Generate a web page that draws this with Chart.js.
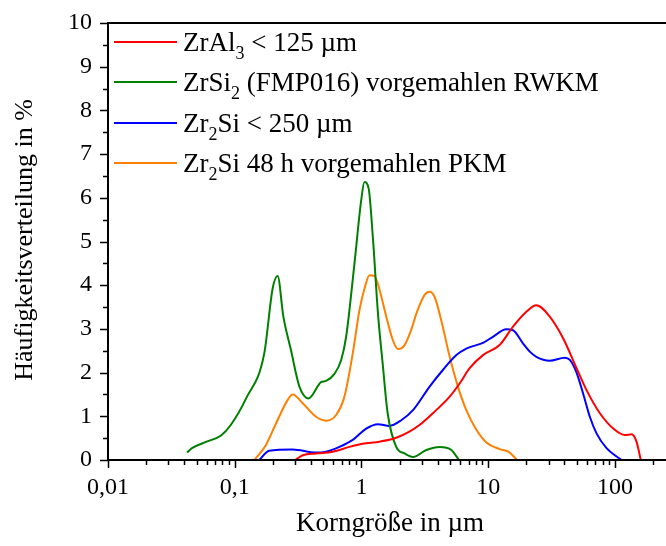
<!DOCTYPE html>
<html>
<head>
<meta charset="utf-8">
<script src="https://cdn.jsdelivr.net/npm/chart.js@4.4.1/dist/chart.umd.min.js"></script>
<style>
  html, body { margin: 0; padding: 0; background: #fff; }
  #wrap { width: 666px; height: 546px; }
</style>
</head>
<body>
<div id="wrap"><canvas id="psdChart"></canvas></div>
<script>
// --- DATA ---
// particle size in µm, frequency in %
const zrAl3Size = [0.30, 0.344, 0.438, 0.593, 0.804, 1.02, 1.39, 1.88, 2.39, 2.87, 3.66, 4.97, 5.95, 7.14, 9.1, 12.3, 15.7, 20.0, 24.0, 30.6, 39.1, 49.8, 59.7, 76.1, 97, 120, 135.5, 148, 160];
const zrAl3Freq = [0, 0.11, 0.15, 0.19, 0.30, 0.37, 0.42, 0.51, 0.65, 0.80, 1.07, 1.45, 1.75, 2.10, 2.40, 2.63, 3.05, 3.39, 3.54, 3.28, 2.78, 2.10, 1.60, 1.07, 0.72, 0.57, 0.59, 0.42, 0];

const zrSi2Size = [0.042, 0.046, 0.060, 0.078, 0.093, 0.123, 0.171, 0.199, 0.218, 0.242, 0.278, 0.324, 0.383, 0.48, 0.526, 0.612, 0.692, 0.757, 0.881, 0.995, 1.056, 1.14, 1.23, 1.35, 1.47, 1.61, 1.88, 2.19, 2.55, 3.25, 4.14, 5.12, 5.88];
const zrSi2Freq = [0.17, 0.27, 0.42, 0.56, 0.80, 1.41, 2.44, 3.92, 4.21, 3.28, 2.51, 1.68, 1.41, 1.78, 1.81, 1.97, 2.29, 2.82, 4.50, 5.94, 6.36, 6.21, 5.10, 3.35, 2.21, 1.07, 0.30, 0.15, 0.07, 0.23, 0.30, 0.23, 0];

const zr2SiSize = [0.156, 0.187, 0.286, 0.438, 0.526, 0.67, 0.854, 1.09, 1.35, 1.66, 2.06, 2.55, 3.45, 4.39, 5.61, 6.72, 9.1, 10.9, 13.9, 15.7, 18.8, 21.3, 24.0, 30.6, 40.2, 44.1, 49.8, 56.1, 63.4, 71.6, 85.9, 103, 113];
const zr2SiFreq = [0, 0.21, 0.24, 0.17, 0.19, 0.30, 0.46, 0.72, 0.82, 0.78, 0.91, 1.14, 1.68, 2.06, 2.40, 2.55, 2.68, 2.82, 2.99, 2.97, 2.67, 2.48, 2.36, 2.27, 2.34, 2.29, 2.0, 1.52, 0.99, 0.61, 0.27, 0.08, 0];

const zr2Si48Size = [0.143, 0.176, 0.212, 0.261, 0.286, 0.344, 0.438, 0.526, 0.631, 0.734, 0.854, 0.964, 1.056, 1.157, 1.27, 1.39, 1.57, 1.77, 1.94, 2.19, 2.45, 2.75, 3.15, 3.45, 3.78, 4.26, 4.97, 5.77, 6.72, 8.07, 9.68, 12.3, 14.4, 16.9];
const zr2Si48Freq = [0, 0.34, 0.84, 1.37, 1.50, 1.30, 0.99, 0.90, 1.03, 1.45, 2.44, 3.43, 3.92, 4.23, 4.21, 3.89, 3.28, 2.74, 2.54, 2.63, 2.95, 3.40, 3.78, 3.85, 3.73, 3.20, 2.36, 1.68, 1.14, 0.69, 0.40, 0.25, 0.19, 0];

// legend labels, split into [text, isSubscript] pieces
const legendLabels = [
    [['ZrAl', false], ['3', true], [' < 125 µm', false]],
    [['ZrSi', false], ['2', true], [' (FMP016) vorgemahlen RWKM', false]],
    [['Zr', false], ['2', true], ['Si < 250 µm', false]],
    [['Zr', false], ['2', true], ['Si 48 h vorgemahlen PKM', false]]
];
const seriesColors = ['#ff0000', '#008000', '#0000ff', '#ff8000'];

// axis ticks
const xTickValues = [0.01, 0.1, 1, 10, 100];
const xTickLabels = ['0,01', '0,1', '1', '10', '100'];
const yTickValues = [0, 1, 2, 3, 4, 5, 6, 7, 8, 9, 10];

const xTitle = 'Korngröße in µm';
const yTitle = 'Häufigkeitsverteilung in %';

const SERIF = "'Liberation Serif', 'Times New Roman', serif";

function toPoints(xs, ys) {
    return xs.map((x, i) => ({ x: x, y: ys[i] }));
}

// --- DRAWING OF AXES, TICKS, TITLES, LEGEND ---
const framePlugin = {
    id: 'frame',
    afterDraw(chart) {
        const ctx = chart.ctx;
        const area = chart.chartArea;
        const xs = chart.scales.x;
        const ys = chart.scales.y;
        ctx.save();
        ctx.strokeStyle = '#000';
        ctx.lineWidth = 2;
        ctx.beginPath();
        // left axis, bottom axis, top frame
        ctx.moveTo(area.left, area.top);
        ctx.lineTo(area.left, area.bottom + 1);
        ctx.moveTo(area.left - 1, area.bottom);
        ctx.lineTo(area.right, area.bottom);
        ctx.moveTo(area.left - 1, area.top);
        ctx.lineTo(area.right, area.top);
        ctx.stroke();

        // x ticks (major at decades, minor 2..9)
        ctx.lineWidth = 1.5;
        ctx.beginPath();
        for (let d = 0.01; d < 1000; d *= 10) {
            for (let m = 1; m <= 9; m++) {
                const v = d * m;
                if (v > xs.max) break;
                const px = Math.round(xs.getPixelForValue(v)) + 0.5;
                const len = m === 1 ? 8 : 5;
                ctx.moveTo(px, area.bottom);
                ctx.lineTo(px, area.bottom + len);
            }
        }
        // y ticks (major every 1, minor every 0.5)
        for (let v = 0; v <= 10; v += 0.5) {
            const py = Math.round(ys.getPixelForValue(v)) + 0.5;
            const len = Number.isInteger(v) ? 8 : 5;
            ctx.moveTo(area.left, py);
            ctx.lineTo(area.left - len, py);
        }
        ctx.stroke();

        // axis titles
        ctx.fillStyle = '#000';
        ctx.textAlign = 'center';
        ctx.textBaseline = 'middle';
        ctx.font = '27px ' + SERIF;
        ctx.fillText(xTitle, (area.left + area.right) / 2 + 3, 524);
        ctx.font = '26px ' + SERIF;
        ctx.save();
        ctx.translate(25, 240);
        ctx.rotate(-Math.PI / 2);
        ctx.fillText(yTitle, 0, 0);
        ctx.restore();

        // legend with subscripts
        const rowY = [42, 82, 123, 163];
        ctx.textAlign = 'left';
        ctx.textBaseline = 'alphabetic';
        legendLabels.forEach((parts, i) => {
            const y = rowY[i];
            ctx.strokeStyle = seriesColors[i];
            ctx.lineWidth = 2;
            ctx.beginPath();
            ctx.moveTo(114, y);
            ctx.lineTo(177, y);
            ctx.stroke();
            let x = 183;
            parts.forEach(([txt, sub]) => {
                ctx.font = (sub ? '18px ' : '27px ') + SERIF;
                ctx.fillText(txt, x, sub ? y + 17 : y + 9);
                x += ctx.measureText(txt).width;
            });
        });
        ctx.restore();
    }
};

const datasets = [
    { data: toPoints(zrAl3Size, zrAl3Freq), borderColor: seriesColors[0] },
    { data: toPoints(zrSi2Size, zrSi2Freq), borderColor: seriesColors[1] },
    { data: toPoints(zr2SiSize, zr2SiFreq), borderColor: seriesColors[2] },
    { data: toPoints(zr2Si48Size, zr2Si48Freq), borderColor: seriesColors[3] }
].map(ds => Object.assign(ds, {
    borderWidth: 2,
    pointRadius: 0,
    fill: false,
    cubicInterpolationMode: 'monotone'
}));

new Chart(document.getElementById('psdChart'), {
    type: 'line',
    data: { datasets: datasets },
    options: {
        responsive: true,
        maintainAspectRatio: false,
        animation: false,
        devicePixelRatio: 1,
        layout: { padding: { top: 23, right: 0, left: 0, bottom: 0 } },
        plugins: { legend: { display: false }, tooltip: { enabled: false } },
        scales: {
            x: {
                type: 'logarithmic',
                min: 0.01,
                max: 253,
                grid: { display: false },
                border: { display: false },
                afterBuildTicks: s => { s.ticks = xTickValues.map(v => ({ value: v })); },
                afterFit: s => { s.height = 86; },
                ticks: {
                    autoSkip: false,
                    maxRotation: 0,
                    padding: 5,
                    color: '#000',
                    font: { family: SERIF, size: 24 },
                    callback: (v) => xTickLabels[xTickValues.indexOf(v)] ?? ''
                }
            },
            y: {
                min: 0,
                max: 10,
                grid: { display: false },
                border: { display: false },
                afterBuildTicks: s => { s.ticks = yTickValues.map(v => ({ value: v })); },
                afterFit: s => { s.width = 108; },
                ticks: {
                    padding: 8,
                    color: '#000',
                    font: { family: SERIF, size: 24 }
                }
            }
        }
    },
    plugins: [framePlugin]
});
</script>
</body>
</html>
